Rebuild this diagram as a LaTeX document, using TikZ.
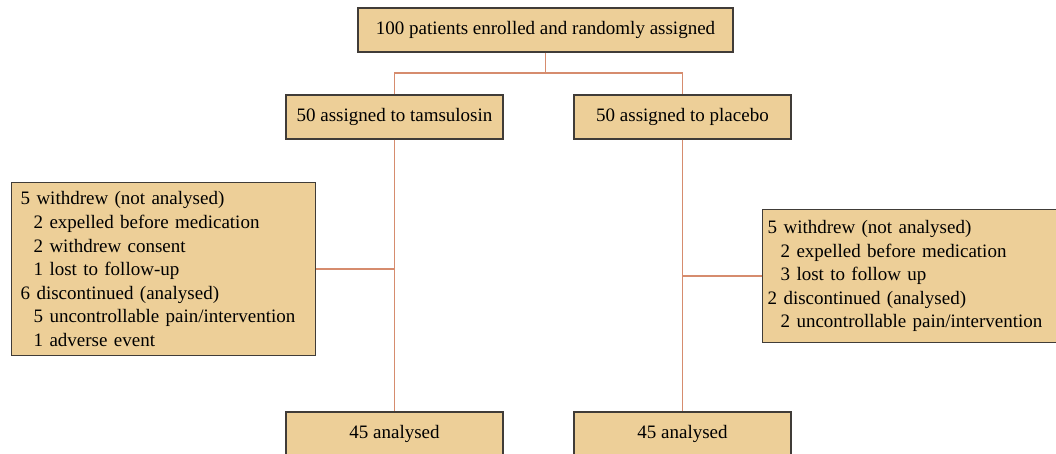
\documentclass[tikz,border=0pt]{standalone}
\usepackage{fontspec}
\setmainfont{Liberation Serif}
\definecolor{boxfill}{RGB}{237,207,152}
\definecolor{boxdraw}{RGB}{64,60,56}
\definecolor{linkcol}{RGB}{214,140,110}

\begin{document}
\begin{tikzpicture}[x=1pt,y=-1pt,
    box/.style={draw=boxdraw,fill=boxfill,line width=1.4pt,inner sep=0pt,
      font=\fontsize{19}{23.6}\selectfont},
    link/.style={draw=linkcol,line width=1.5pt}]
  \useasboundingbox (0,0) rectangle (1056,454);

  % top box
  \node[box,minimum width=375,minimum height=44] (enrol) at (545.5,30) {100 patients enrolled and randomly assigned};

  % the two arms
  \node[box,minimum width=217,minimum height=44] (tams) at (394.5,117) {50 assigned to tamsulosin};
  \node[box,minimum width=217,minimum height=44] (plac) at (682.5,117) {50 assigned to placebo};

  % side boxes
  \node[box,anchor=north west,minimum width=304,minimum height=173,text width=286,
    align=left,inner xsep=9pt] (outL) at (11,182) {5 withdrew (not analysed)\\
    \hspace*{13pt}2 expelled before medication\\
    \hspace*{13pt}2 withdrew consent\\
    \hspace*{13pt}1 lost to follow-up\\
    6 discontinued (analysed)\\
    \hspace*{13pt}5 uncontrollable pain/intervention\\
    \hspace*{13pt}1 adverse event};
  \node[box,anchor=north west,minimum width=310,minimum height=133,text width=300,
    align=left,inner xsep=4pt] (outR) at (762,209) {5 withdrew (not analysed)\\
    \hspace*{13pt}2 expelled before medication\\
    \hspace*{13pt}3 lost to follow up\\
    2 discontinued (analysed)\\
    \hspace*{13pt}2 uncontrollable pain/intervention};

  % bottom boxes
  \node[box,minimum width=217,minimum height=44] (anaL) at (394.5,434) {45 analysed};
  \node[box,minimum width=217,minimum height=44] (anaR) at (682.5,434) {45 analysed};

  % connectors
  \coordinate (split) at (enrol.south |- 0,73);
  \draw[link] (enrol.south) -- (split);
  \draw[link] (tams.north) |- (split) -| (plac.north);
  \draw[link] (tams.south) -- (anaL.north);
  \draw[link] (plac.south) -- (anaR.north);
  \draw[link] (outL.east) -- (outL.east -| tams.south);
  \draw[link] (outR.west) -- (outR.west -| plac.south);
\end{tikzpicture}
\end{document}
